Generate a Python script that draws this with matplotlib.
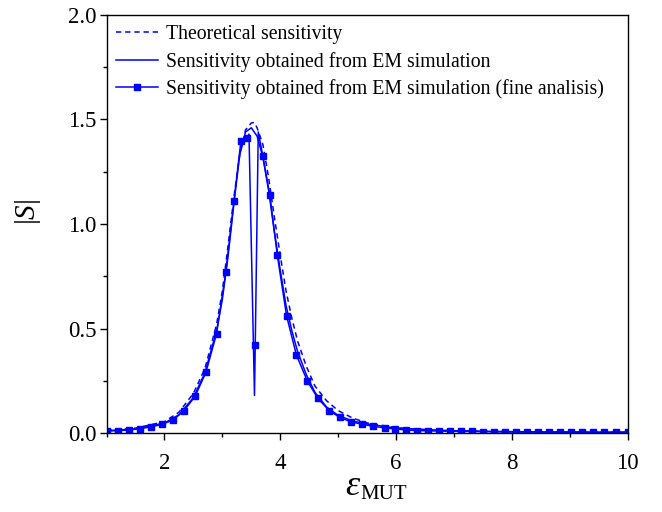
import matplotlib
matplotlib.use("Agg")
import matplotlib.pyplot as plt
from matplotlib.ticker import MultipleLocator, FormatStrFormatter

plt.rcParams['font.family'] = ['Liberation Serif', 'DejaVu Serif']
plt.rcParams['mathtext.fontset'] = 'custom'
plt.rcParams['mathtext.rm'] = 'Liberation Serif'
plt.rcParams['mathtext.it'] = 'Liberation Serif:italic'

# Theoretical sensitivity (dashed)
x_theory = [1.0, 1.5, 2.0, 2.25, 2.5, 2.7, 2.9, 3.0, 3.1, 3.2, 3.3, 3.4, 3.5, 3.55,
            3.6, 3.7, 3.8, 3.9, 4.0, 4.1, 4.2, 4.3, 4.45, 4.6, 4.8, 5.0, 5.25, 5.5,
            6.0, 6.5, 7.0, 8.0, 9.0, 10.0]
s_theory = [0.013, 0.024, 0.055, 0.10, 0.19, 0.31, 0.52, 0.68, 0.90, 1.13, 1.33, 1.45,
            1.483, 1.485, 1.46, 1.38, 1.22, 1.03, 0.85, 0.68, 0.55, 0.44, 0.32, 0.225,
            0.155, 0.108, 0.072, 0.049, 0.026, 0.016, 0.011, 0.007, 0.005, 0.004]

# Sensitivity from EM simulation (thin solid)
x_em = [1.0, 1.5, 2.0, 2.25, 2.5, 2.7, 2.9, 3.0, 3.1, 3.2, 3.3, 3.4, 3.5, 3.6, 3.7,
        3.8, 3.9, 4.0, 4.1, 4.2, 4.3, 4.45, 4.6, 4.8, 5.0, 5.25, 5.5, 6.0, 7.0, 8.0,
        9.0, 10.0]
s_em = [0.012, 0.020, 0.048, 0.088, 0.17, 0.29, 0.49, 0.64, 0.85, 1.10, 1.33, 1.44,
        1.46, 1.42, 1.32, 1.16, 0.96, 0.78, 0.61, 0.49, 0.39, 0.28, 0.195, 0.125,
        0.085, 0.058, 0.044, 0.024, 0.011, 0.007, 0.005, 0.004]

# Sensitivity from EM simulation, fine analysis (solid with square markers)
x_fine = [1.00, 1.19, 1.38, 1.57, 1.765, 1.96, 2.15, 2.34, 2.53, 2.715, 2.90, 3.06,
          3.20, 3.32, 3.43, 3.46, 3.555, 3.568, 3.62, 3.70, 3.82, 3.95, 4.11, 4.28,
          4.47, 4.65, 4.85, 5.03, 5.22, 5.41, 5.60, 5.81, 5.99, 6.18, 6.37, 6.56,
          6.75, 6.94, 7.13, 7.32, 7.51, 7.70, 7.89, 8.08, 8.27, 8.46, 8.65, 8.84,
          9.03, 9.22, 9.41, 9.60, 9.80, 10.0]
s_fine = [0.010, 0.012, 0.015, 0.021, 0.030, 0.042, 0.063, 0.108, 0.177, 0.290, 0.476,
          0.770, 1.108, 1.395, 1.413, 1.43, 0.18, 0.42, 1.44, 1.323, 1.137, 0.850,
          0.560, 0.373, 0.248, 0.166, 0.107, 0.075, 0.054, 0.043, 0.033, 0.025, 0.020,
          0.015, 0.012, 0.011, 0.010, 0.009, 0.008, 0.008, 0.007, 0.007, 0.006, 0.006,
          0.006, 0.005, 0.005, 0.005, 0.005, 0.004, 0.004, 0.004, 0.004, 0.004]
unmarked = [3.46, 3.555, 3.62]
mark_idx = [i for i, v in enumerate(x_fine) if v not in unmarked]

blue = '#0000FF'

fig = plt.figure(figsize=(6.62, 5.12), dpi=100)
ax = fig.add_axes([0.161, 0.154, 0.787, 0.817])

ax.plot(x_theory, s_theory, '--', color=blue, lw=1.1, dashes=(3.5, 2.5),
        label='Theoretical sensitivity')
ax.plot(x_em, s_em, '-', color=blue, lw=1.1,
        label='Sensitivity obtained from EM simulation')
ax.plot(x_fine, s_fine, '-', color=blue, lw=1.1, marker='s', markersize=4.2,
        markevery=mark_idx,
        label='Sensitivity obtained from EM simulation (fine analisis)')

ax.set_xlim(1, 10)
ax.set_ylim(0, 2.0)
ax.xaxis.set_major_locator(MultipleLocator(2))
ax.xaxis.set_minor_locator(MultipleLocator(1))
ax.yaxis.set_major_locator(MultipleLocator(0.5))
ax.yaxis.set_minor_locator(MultipleLocator(0.25))
ax.yaxis.set_major_formatter(FormatStrFormatter('%.1f'))
ax.tick_params(which='major', direction='out', length=5, width=1, labelsize=16.5,
               top=False, right=False)
ax.tick_params(axis='x', which='major', pad=9)
ax.tick_params(axis='y', which='major', pad=2)
ax.tick_params(which='minor', direction='out', length=3, width=1,
               top=False, right=False)
for sp in ax.spines.values():
    sp.set_linewidth(1.0)

# x label: italic epsilon with subscript "MUT"
ax.set_xlabel('ε', fontsize=26, fontstyle='italic')
ax.xaxis.set_label_coords(0.471, -0.088)
ax.annotate('MUT', xy=(1, 0), xycoords=ax.xaxis.label, xytext=(1, -1),
            textcoords='offset points', fontsize=15, ha='left', va='bottom')

ax.set_ylabel('|' + '$S$' + '|', fontsize=21)
ax.yaxis.set_label_coords(-0.122, 0.53)

ax.legend(loc='upper left', frameon=False, fontsize=14.2, handlelength=2.1,
          handletextpad=0.4, labelspacing=0.4, borderaxespad=0.3,
          numpoints=1, borderpad=0.2)

fig.savefig('out.png', dpi=100)
